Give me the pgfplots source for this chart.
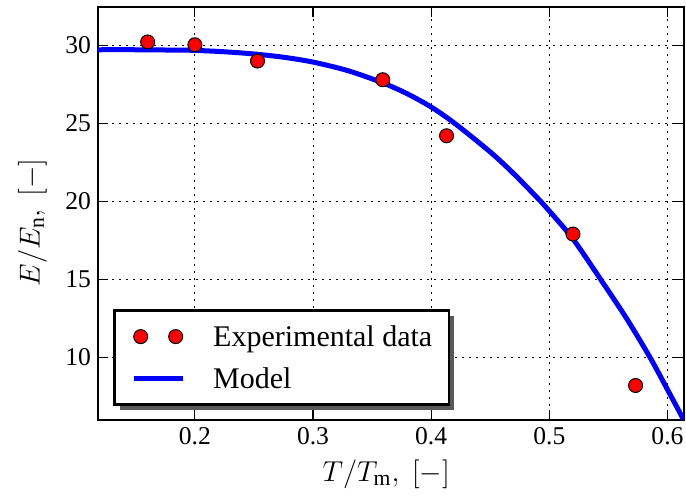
\documentclass[border=0pt]{standalone}
\usepackage{fontspec}
\setmainfont{Liberation Serif}
\usepackage{pgfplots}
\pgfplotsset{compat=1.18}
\usetikzlibrary{shadows,calc}

% the legend box casts a shadow; its contents must not
\makeatletter
\tikzset{no preactions/.code={\let\tikz@preactions=\pgfutil@empty}}
\makeatother

% legend images: two dots for the measurements, a short bar for the model
\pgfplotsset{
  dots legend/.style={legend image code/.code={%
    \filldraw[no preactions, fill=red, draw=black, line width=0.5pt]
      (3.5pt,0pt) circle[radius=3.5pt] (21pt,0pt) circle[radius=3.5pt];}},
  bar legend/.style={legend image code/.code={%
    \draw[no preactions, ##1] (0pt,0pt) -- (24.5pt,0pt);}},
}

% measured elastic modulus ratio versus homologous temperature
\pgfplotstableread{
T      E
0.160  30.22
0.200  30.04
0.253  29.00
0.359  27.80
0.413  24.21
0.520  17.91
0.573  8.21
}\expdata

% fitted model curve
\pgfplotstableread{
T       E
0.118   29.72
0.150   29.72
0.180   29.70
0.200   29.68
0.225   29.59
0.250   29.45
0.275   29.24
0.300   28.93
0.330   28.37
0.3593  27.59
0.380   26.89
0.400   26.05
0.420   25.00
0.450   23.17
0.470   21.77
0.4928  20.00
0.500   19.39
0.520   17.60
0.5435  15.00
0.565   12.55
0.5853  10.00
0.600   7.95
0.6145  5.90
}\modeldata

\begin{document}
\begin{tikzpicture}
\begin{axis}[
  scale only axis,
  width=293pt, height=206.5pt,
  xmin=0.118, xmax=0.614,
  ymin=6, ymax=32.46,
  xtick={0.2,0.3,0.4,0.5,0.6},
  ytick={10,15,20,25,30},
  xticklabel style={/pgf/number format/fixed,/pgf/number format/precision=1},
  /pgf/number format/assume math mode=true,
  tick label style={font=\fontsize{12.8}{14}\selectfont, black},
  tick align=inside,
  major tick length=5pt,
  tick style={black, line width=0.6pt},
  axis line style={black, line width=1.3pt},
  grid=major,
  major grid style={black, line width=0.5pt, dash pattern=on 0.9pt off 2.6pt},
  xlabel={$T/T_{\mathrm{m}},\ [-]$},
  ylabel={$E/E_{\mathrm{n}},\ [-]$},
  label style={font=\fontsize{15.5}{18}\selectfont},
  xlabel style={at={(axis description cs:0.492,-0.131)}, anchor=center},
  ylabel style={at={(axis description cs:-0.112,0.478)}, anchor=center, rotate=0},
  legend style={
    at={(rel axis cs:0.0261,0.268)}, anchor=north west,
    draw=black, line width=1.3pt, fill=white,
    drop shadow={shadow xshift=2.6pt, shadow yshift=-2.6pt, fill=black!65, opacity=1},
    font=\fontsize{15}{17}\selectfont,
    inner xsep=8.3pt, inner ysep=5.8pt,
    row sep=6.6pt, column sep=14pt,
    nodes={inner sep=0pt, text height=12pt, text depth=2.4pt},
  },
  legend cell align=left,
]
\addplot[only marks, mark=*, mark size=3.5pt,
  mark options={fill=red, draw=black, line width=0.5pt}, dots legend]
  table[x=T, y=E] {\expdata};
\addlegendentry{Experimental data}

\addplot[blue, line width=2.5pt, smooth, tension=0.5, no markers, bar legend]
  table[x=T, y=E] {\modeldata};
\addlegendentry{Model}
\end{axis}
\pgfresetboundingbox
\path ($(current axis.south west)+(-49pt,-38pt)$) rectangle ($(current axis.north east)+(1pt,3.5pt)$);
\end{tikzpicture}
\end{document}
